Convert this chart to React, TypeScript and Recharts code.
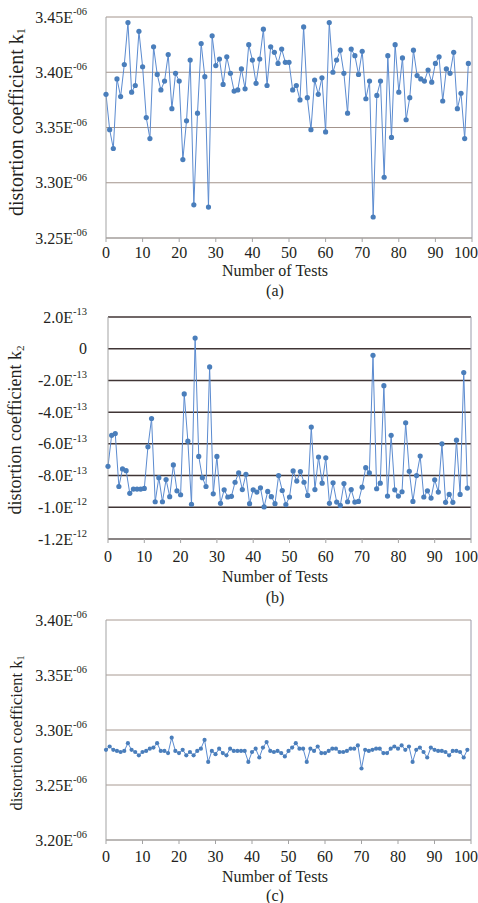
import { LineChart, Line, XAxis, YAxis, CartesianGrid, ReferenceLine } from "recharts";

const FONT = '"Liberation Serif", "Tinos", "Times New Roman"';
const INK = "#231f20";
const BLUE_LINE = "#5b8bd0";
const BLUE_DOT = "#4a7ebb";

const X_TICKS = [0, 10, 20, 30, 40, 50, 60, 70, 80, 90, 100];

// (a) k1 before correction, in units of 1e-6
const K1_A = [
  3.38, 3.348, 3.331, 3.394, 3.378, 3.407, 3.445, 3.382, 3.388, 3.437,
  3.405, 3.359, 3.34, 3.423, 3.398, 3.384, 3.392, 3.416, 3.367, 3.399,
  3.392, 3.321, 3.356, 3.411, 3.28, 3.363, 3.426, 3.396, 3.278, 3.433,
  3.406, 3.412, 3.389, 3.414, 3.399, 3.383, 3.384, 3.403, 3.385, 3.425,
  3.411, 3.39, 3.412, 3.439, 3.388, 3.423, 3.418, 3.408, 3.421, 3.409,
  3.409, 3.384, 3.388, 3.375, 3.441, 3.377, 3.348, 3.393, 3.38, 3.395,
  3.346, 3.445, 3.4, 3.411, 3.42, 3.399, 3.363, 3.421, 3.415, 3.398,
  3.419, 3.376, 3.392, 3.269, 3.379, 3.392, 3.305, 3.415, 3.341, 3.425,
  3.382, 3.413, 3.357, 3.377, 3.42, 3.397, 3.394, 3.392, 3.402, 3.391,
  3.408, 3.414, 3.374, 3.403, 3.399, 3.418, 3.367, 3.381, 3.34, 3.408,
];
const K1_A_TICKS = [3.25, 3.3, 3.35, 3.4, 3.45];
const K1_A_LABELS = ["3.25E-06", "3.30E-06", "3.35E-06", "3.40E-06", "3.45E-06"];

// (b) k2, in units of 1e-13
const K2_B = [
  -7.42, -5.46, -5.35, -8.69, -7.58, -7.69, -9.12, -8.85, -8.85, -8.85,
  -8.81, -6.19, -4.4, -9.65, -8.13, -9.65, -8.25, -9.33, -7.33, -8.96,
  -9.21, -2.85, -5.83, -9.81, 0.67, -6.79, -8.13, -8.69, -1.15, -9.15,
  -6.79, -9.75, -8.9, -9.35, -9.31, -8.42, -7.83, -8.88, -7.92, -9.77,
  -8.9, -9.04, -8.77, -9.98, -9.0, -9.33, -9.77, -8.0, -8.94, -9.83,
  -9.35, -7.71, -8.35, -7.75, -8.42, -9.25, -4.94, -8.88, -6.83, -8.48,
  -6.88, -9.75, -8.46, -9.67, -9.88, -8.5, -9.65, -8.88, -9.67, -9.63,
  -8.73, -7.5, -7.83, -0.42, -8.83, -8.48, -2.33, -9.29, -5.46, -8.9,
  -9.29, -9.02, -4.67, -7.73, -9.63, -8.0, -6.77, -9.35, -8.96, -9.42,
  -8.27, -9.04, -6.0, -9.69, -9.19, -9.69, -5.77, -9.19, -1.5, -8.79,
];
const K2_B_TICKS = [-12, -10, -8, -6, -4, -2, 0, 2];
const K2_B_LABELS = ["-1.2E-12", "-1.0E-12", "-8.0E-13", "-6.0E-13", "-4.0E-13", "-2.0E-13", "0", "2.0E-13"];

// (c) k1 after correction, in units of 1e-6
const K1_C = [
  3.282, 3.285, 3.282, 3.281, 3.28, 3.281, 3.288, 3.282, 3.28, 3.277,
  3.28, 3.281, 3.283, 3.284, 3.288, 3.281, 3.281, 3.279, 3.293, 3.281,
  3.279, 3.282, 3.277, 3.28, 3.277, 3.281, 3.283, 3.291, 3.271, 3.281,
  3.278, 3.283, 3.279, 3.277, 3.283, 3.281, 3.281, 3.281, 3.281, 3.271,
  3.28, 3.283, 3.275, 3.284, 3.289, 3.281, 3.28, 3.281, 3.279, 3.276,
  3.281, 3.284, 3.288, 3.283, 3.283, 3.271, 3.283, 3.281, 3.285, 3.279,
  3.279, 3.281, 3.283, 3.283, 3.28, 3.28, 3.281, 3.283, 3.283, 3.286,
  3.265, 3.282, 3.281, 3.282, 3.283, 3.283, 3.279, 3.279, 3.283, 3.285,
  3.283, 3.286, 3.282, 3.285, 3.271, 3.282, 3.284, 3.28, 3.275, 3.284,
  3.282, 3.281, 3.281, 3.28, 3.277, 3.281, 3.281, 3.28, 3.275, 3.282,
];
const K1_C_TICKS = [3.2, 3.25, 3.3, 3.35, 3.4];
const K1_C_LABELS = ["3.20E-06", "3.25E-06", "3.30E-06", "3.35E-06", "3.40E-06"];

function makeYTick(ticks: number[], labels: string[]) {
  return (p: any) => {
    const i = ticks.findIndex((t) => Math.abs(t - p.payload.value) < 1e-6);
    const lab = labels[i] ?? "";
    const [m, e] = lab.split("E");
    return (
      <text x={p.x} y={p.y} textAnchor="end" dominantBaseline="central" style={{ fontFamily: FONT }} fontSize={16} fill={INK}>
        {e ? m + "E" : m}
        {e && (
          <tspan dy={-6} fontSize={10.5}>
            {e}
          </tspan>
        )}
      </text>
    );
  };
}

type PanelProps = {
  values: number[];
  ticks: number[];
  labels: string[];
  top: number;
  height: number;
  marginTop: number;
  axisHeight: number;
  yWidth: number;
  right: number;
  tickGap: number;
  gridColor: string;
  gridWidth: number;
  dotR: number;
};

function Panel(props: PanelProps) {
  const data = props.values.map((v, i) => ({ test: i, k: v }));
  return (
    <div style={{ position: "absolute", left: 0, top: props.top }}>
      <LineChart
        width={478}
        height={props.height}
        data={data}
        margin={{ top: props.marginTop, right: props.right, bottom: 0, left: 0 }}
        style={{ fontFamily: FONT }}
      >
        <CartesianGrid vertical={false} stroke={props.gridColor} strokeWidth={props.gridWidth} />
        <XAxis
          dataKey="test"
          type="number"
          domain={[0, 100]}
          ticks={X_TICKS}
          height={props.axisHeight}
          tickSize={4}
          tickMargin={props.tickGap}
          stroke="#a3a3a3"
          tick={{ fontSize: 16, fill: INK, style: { fontFamily: FONT } }}
        />
        <YAxis
          type="number"
          domain={[props.ticks[0], props.ticks[props.ticks.length - 1]]}
          ticks={props.ticks}
          width={props.yWidth}
          tickSize={0}
          tickMargin={props.yWidth - 87}
          stroke="#a3a3a3"
          tick={makeYTick(props.ticks, props.labels)}
        />
        <ReferenceLine x={100} stroke="#9c9cab" />
        <Line
          type="linear"
          dataKey="k"
          stroke={BLUE_LINE}
          strokeWidth={1}
          dot={{ r: props.dotR, fill: BLUE_DOT, stroke: BLUE_DOT, strokeWidth: 0 }}
          isAnimationActive={false}
        />
      </LineChart>
    </div>
  );
}

function Title({ x, y, size, sub }: { x: number; y: number; size: number; sub: string }) {
  return (
    <text
      transform={`translate(${x},${y}) rotate(-90)`}
      textAnchor="middle"
      dominantBaseline="central"
      style={{ fontFamily: FONT }}
      fontSize={size}
      fill={INK}
    >
      distortion coefficient k
      <tspan dy={size * 0.25} fontSize={size * 0.62}>
        {sub}
      </tspan>
    </text>
  );
}

function Caption({ y, text }: { y: number; text: string }) {
  return (
    <text x={275} y={y} textAnchor="middle" dominantBaseline="central" style={{ fontFamily: FONT }} fontSize={16} fill={INK}>
      {text}
    </text>
  );
}

export default function App() {
  return (
    <div style={{ position: "absolute", left: 0, top: 0, width: 478, height: 903, background: "#fff", fontFamily: FONT }}>
      <Panel values={K1_A} ticks={K1_A_TICKS} labels={K1_A_LABELS} top={0} height={300} marginTop={17}
        axisHeight={62} yWidth={106} right={6} tickGap={5} gridColor="#a3948c" gridWidth={1} dotR={2.6} />
      <Panel values={K2_B} ticks={K2_B_TICKS} labels={K2_B_LABELS} top={300} height={305} marginTop={17}
        axisHeight={66} yWidth={108} right={7} tickGap={8} gridColor="#403535" gridWidth={1.5} dotR={2.6} />
      <Panel values={K1_C} ticks={K1_C_TICKS} labels={K1_C_LABELS} top={605} height={298} marginTop={15}
        axisHeight={63} yWidth={106} right={7} tickGap={7} gridColor="#a89a92" gridWidth={1} dotR={2.1} />
      <svg width={478} height={903} style={{ position: "absolute", left: 0, top: 0, pointerEvents: "none" }}>
        <Title x={16} y={122} size={20} sub="1" />
        <Caption y={270} text="Number of Tests" />
        <Caption y={290} text="(a)" />
        <Title x={15} y={430} size={18} sub="2" />
        <Caption y={576} text="Number of Tests" />
        <Caption y={597} text="(b)" />
        <Title x={16} y={733} size={16.5} sub="1" />
        <Caption y={876} text="Number of Tests" />
        <Caption y={895} text="(c)" />
      </svg>
    </div>
  );
}
